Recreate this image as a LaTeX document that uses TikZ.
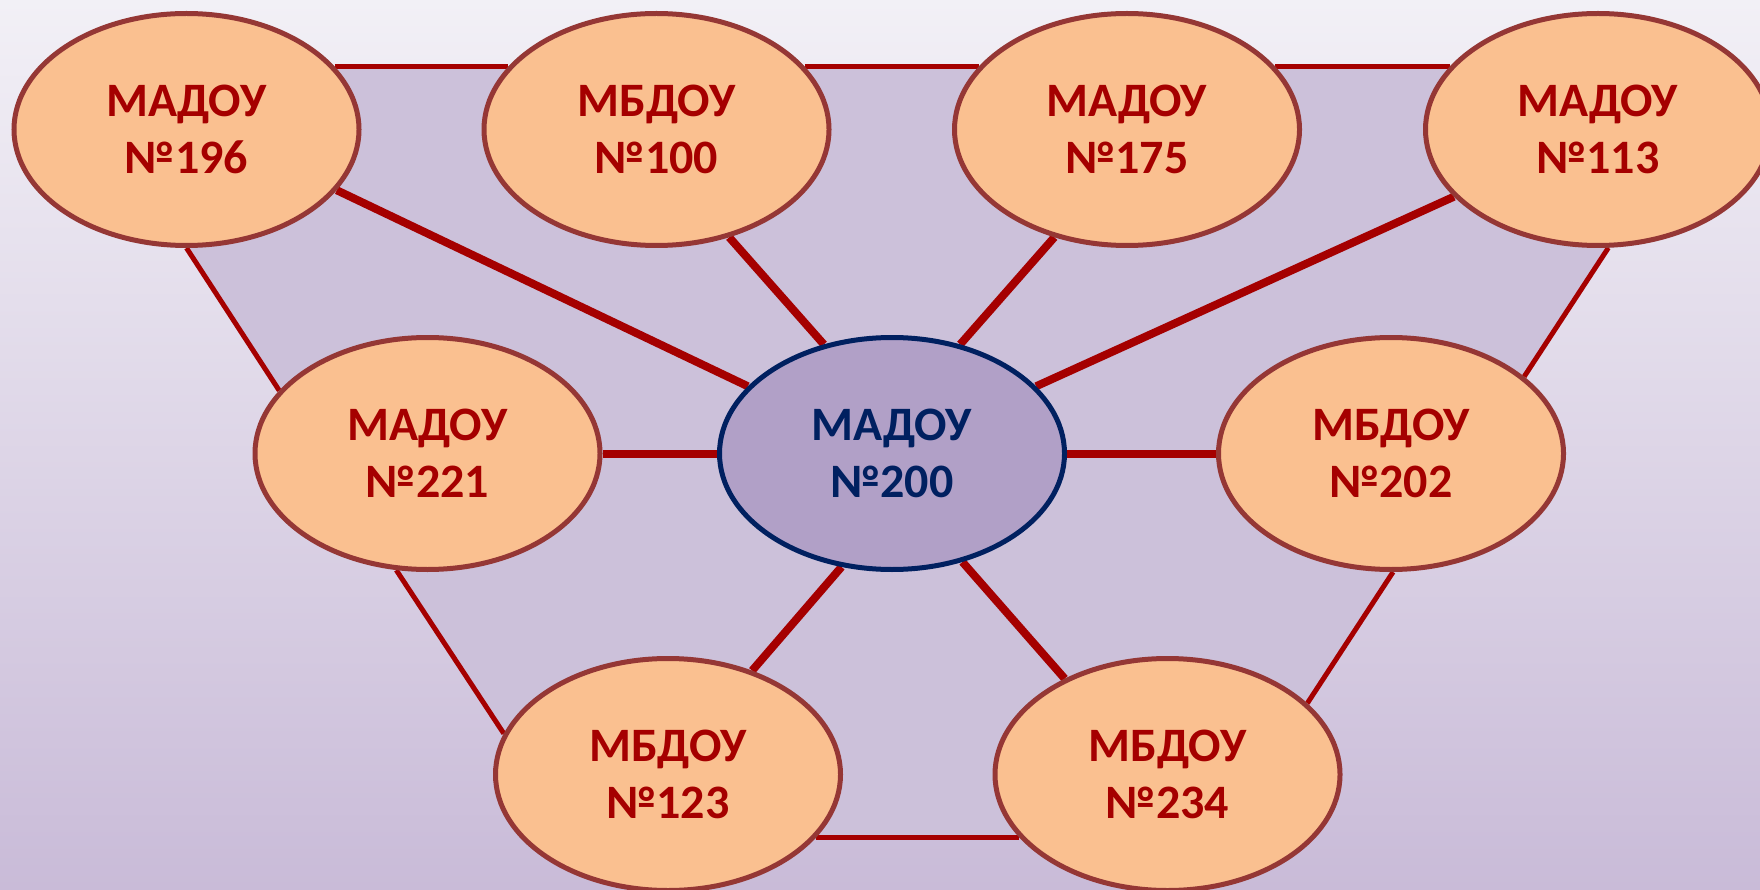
\documentclass[tikz,border=0pt]{standalone}
\usepackage{fontspec}
\setmainfont{Carlito}
\usetikzlibrary{shapes.geometric}
\definecolor{peach}{HTML}{FAC090}
\definecolor{peachborder}{HTML}{953735}
\definecolor{darkred}{HTML}{A50000}
\definecolor{navy}{HTML}{002060}
\definecolor{lav}{HTML}{B1A0C7}
\definecolor{polyfill}{HTML}{CCC1DA}
\definecolor{bgtop}{HTML}{F2F0F6}
\definecolor{bgbot}{HTML}{C9BBD8}
\pgfdeclarelayer{bgshade}
\pgfdeclarelayer{bglines}
\pgfsetlayers{bgshade,bglines,main}
\begin{document}
\begin{tikzpicture}[x=1pt,y=-1pt,
  school/.style={ellipse, draw=peachborder, fill=peach, line width=5pt,
    minimum width=345pt, minimum height=232pt, inner sep=0pt, align=center,
    text=darkred, font=\fontsize{48}{57}\selectfont\bfseries},
  hub/.style={school, draw=navy, fill=lav, text=navy},
  spoke/.style={draw=darkred, line width=8pt},
  rim/.style={draw=darkred, line width=5pt}]
\useasboundingbox (0,0) rectangle (1760,890);
\begin{pgfonlayer}{bgshade}
  \shade[top color=bgtop, bottom color=bgbot] (0,0) rectangle (1760,890);
\end{pgfonlayer}

\node[school] (n196) at (186.5,129.5) {МАДОУ\\№196};
\node[school] (n100) at (656.5,129.5) {МБДОУ\\№100};
\node[school] (n175) at (1127,129.5) {МАДОУ\\№175};
\node[school] (n113) at (1598,129.5) {МАДОУ\\№113};
\node[school] (n221) at (427.5,453.5) {МАДОУ\\№221};
\node[hub]    (n200) at (892,453.5) {МАДОУ\\№200};
\node[school] (n202) at (1391,453.5) {МБДОУ\\№202};
\node[school] (n123) at (668,774.5) {МБДОУ\\№123};
\node[school] (n234) at (1167.5,774.5) {МБДОУ\\№234};

\begin{pgfonlayer}{bglines}
  \fill[polyfill] (n196.23) -- (n100.157) -- (n100.23) -- (n175.157) -- (n175.23)
    -- (n113.157) -- (n113.-85) -- (n202.30) -- (n202.-89) -- (n234.27)
    -- (n234.-157) -- (n123.-23) -- (n123.166) -- (n221.-105) -- (n221.157)
    -- (n196.-90) -- cycle;
  % rim connectors
  \draw[rim] (n196.23) -- (n100.157);
  \draw[rim] (n100.23) -- (n175.157);
  \draw[rim] (n175.23) -- (n113.157);
  \draw[rim] (n196.-90) -- (n221.157);
  \draw[rim] (n221.-105) -- (n123.166);
  \draw[rim] (n123.-23) -- (n234.-157);
  \draw[rim] (n234.27) -- (n202.-89);
  \draw[rim] (n202.30) -- (n113.-85);
  % spokes
  \draw[spoke] (n200.155) -- (n196.-22);
  \draw[spoke] (n200.122) -- (n100.-56);
  \draw[spoke] (n200.58) -- (n175.-124);
  \draw[spoke] (n200.25) -- (n113.-155);
  \draw[spoke] (n200.180) -- (n221.0);
  \draw[spoke] (n200.0) -- (n202.180);
  \draw[spoke] (n200.-114) -- (n123.51);
  \draw[spoke] (n200.-57) -- (n234.137);
\end{pgfonlayer}
\end{tikzpicture}
\end{document}
